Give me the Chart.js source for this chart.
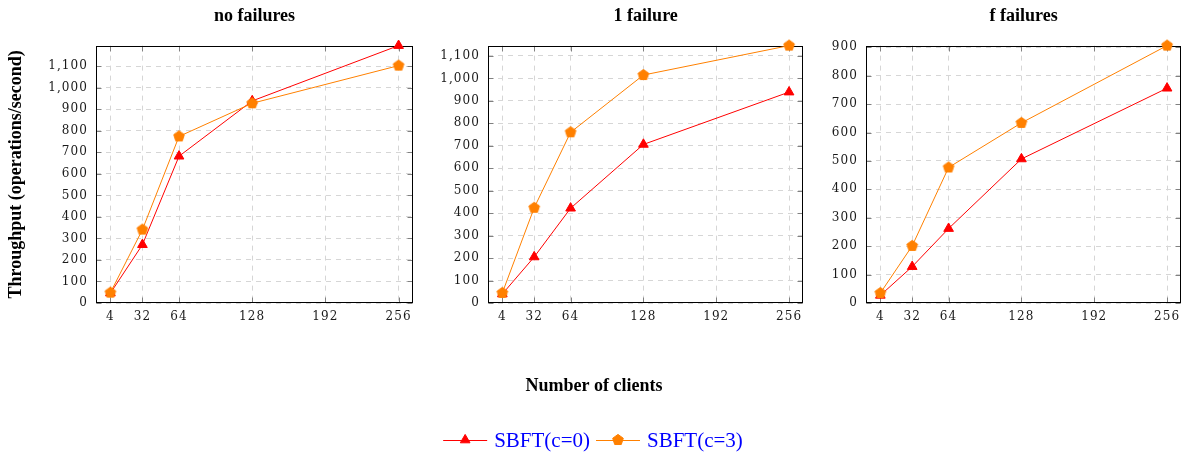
<!DOCTYPE html>
<html><head><meta charset="utf-8">
<script src="https://cdn.jsdelivr.net/npm/chart.js@4.4.1/dist/chart.umd.min.js"></script>
<style>
html,body{margin:0;padding:0;background:#fff;width:1188px;height:455px;overflow:hidden;}
.p{position:absolute;top:0;}
canvas{display:block;}
</style></head><body>
<div class="p" style="left:0px"><canvas id="c1" width="420" height="455"></canvas></div>
<div class="p" style="left:420px"><canvas id="c2" width="390" height="455"></canvas></div>
<div class="p" style="left:810px"><canvas id="c3" width="378" height="455"></canvas></div>
<script>
// ---------- data ----------
const clients = [4, 32, 64, 128, 256];
const xTicks = [4, 32, 64, 128, 192, 256];
const panelTitles = ['no failures', '1 failure', 'f failures'];
const seriesNames = ['SBFT(c=0)', 'SBFT(c=3)'];
const noFailC0 = [46, 271, 682, 939, 1196];
const noFailC3 = [48, 341, 774, 928, 1103];
const oneFailC0 = [40, 205, 422, 706, 939];
const oneFailC3 = [45, 424, 760, 1015, 1146];
const fFailC0 = [27, 128, 262, 507, 756];
const fFailC3 = [35, 201, 477, 634, 906];
const yTicks1100 = [0, 100, 200, 300, 400, 500, 600, 700, 800, 900, 1000, 1100];
const yTicks900 = [0, 100, 200, 300, 400, 500, 600, 700, 800, 900];
const yMaxes = [1196, 1146, 906];
const xAxisTitle = 'Number of clients';
const yAxisTitle = 'Throughput (operations/second)';

// ---------- styles ----------
const RED = '#ff0000';
const ORANGE = '#ff8000';
const serif = 'Liberation Serif';

function pentagon(color, r) {
  const s = Math.ceil(2 * r + 2);
  const c = document.createElement('canvas');
  c.width = s; c.height = s;
  const g = c.getContext('2d');
  g.fillStyle = color; g.strokeStyle = color; g.lineWidth = 1;
  g.beginPath();
  for (let i = 0; i < 5; i++) {
    const a = -Math.PI / 2 + i * 2 * Math.PI / 5;
    const x = s / 2 + r * Math.cos(a), y = s / 2 + r * Math.sin(a);
    if (i) g.lineTo(x, y); else g.moveTo(x, y);
  }
  g.closePath(); g.fill(); g.stroke();
  return c;
}
const pentImg = pentagon(ORANGE, 5.6);

// widen tick label glyph spacing (like the wide serif digits of the source)
const origDrawLabels = Chart.Scale.prototype.drawLabels;
Chart.Scale.prototype.drawLabels = function (area) {
  const ctx = this.ctx;
  const prev = ctx.letterSpacing;
  ctx.letterSpacing = '1.1px';
  origDrawLabels.call(this, area);
  ctx.letterSpacing = prev || '0px';
};

const frame = {
  id: 'frame',
  beforeDatasetsDraw(chart) {
    const { ctx, chartArea: a, scales: { x, y } } = chart;
    const L = Math.round(a.left) + 0.5, R = Math.round(a.right) - 0.5;
    const T = Math.round(a.top) + 0.5, B = Math.round(a.bottom) - 0.5;
    ctx.save();
    ctx.lineWidth = 1;
    ctx.strokeStyle = '#808080';
    ctx.beginPath();
    x.ticks.forEach(t => {
      const px = Math.round(x.getPixelForValue(t.value)) + 0.5;
      ctx.moveTo(px, B); ctx.lineTo(px, B - 5);
      ctx.moveTo(px, T); ctx.lineTo(px, T + 5);
    });
    y.ticks.forEach(t => {
      const py = Math.round(y.getPixelForValue(t.value)) + 0.5;
      ctx.moveTo(L, py); ctx.lineTo(L + 5, py);
      ctx.moveTo(R, py); ctx.lineTo(R - 5, py);
    });
    ctx.stroke();
    ctx.strokeStyle = '#000';
    ctx.strokeRect(L, T, R - L, B - T);
    ctx.restore();
  }
};

const figureText = {
  id: 'figureText',
  afterDraw(chart) {
    const ctx = chart.ctx;
    ctx.save();
    ctx.letterSpacing = '0px';
    ctx.font = 'bold 18px "' + serif + '"';
    ctx.fillStyle = '#000';
    ctx.textAlign = 'center';
    ctx.textBaseline = 'middle';
    ctx.fillText(xAxisTitle, 174, 386);
    ctx.font = '21px "' + serif + '"';
    const items = chart.data.datasets.map(d => ({
      label: d.label, color: d.borderColor, style: d.pointStyle, r: d.pointRadius,
      w: ctx.measureText(d.label).width
    }));
    const lineLen = 44, gapLT = 7, gapItem = 6;
    let total = 0;
    items.forEach((it, i) => { total += lineLen + gapLT + it.w + (i ? gapItem : 0); });
    let x = 173 - total / 2;
    const y = 440;
    items.forEach(it => {
      ctx.strokeStyle = it.color; ctx.lineWidth = 1;
      ctx.beginPath(); ctx.moveTo(x, y + 0.5); ctx.lineTo(x + lineLen, y + 0.5); ctx.stroke();
      ctx.fillStyle = it.color;
      Chart.helpers.drawPoint(ctx, { pointStyle: it.style, radius: it.r, rotation: 0, borderWidth: 1 }, x + lineLen / 2, y);
      ctx.fillStyle = '#0000ff';
      ctx.textAlign = 'left';
      ctx.fillText(it.label, x + lineLen + gapLT, y + 1);
      x += lineLen + gapLT + it.w + gapItem;
    });
    ctx.restore();
  }
};

function makeChart(id, idx, c0, c3, yTicks, yAxisW, rightPad, showYTitle, extra) {
  const gridOpts = { color: '#d6d6d6', lineWidth: 1, drawTicks: false };
  const tickFont = { family: 'DejaVu Serif', size: 12 };
  return new Chart(document.getElementById(id), {
    type: 'line',
    data: {
      datasets: [
        {
          label: seriesNames[0],
          data: clients.map((c, i) => ({ x: c, y: c0[i] })),
          borderColor: RED, backgroundColor: RED, borderWidth: 1,
          pointStyle: 'triangle', pointRadius: 5.6, pointBorderWidth: 1,
          pointBackgroundColor: RED, pointBorderColor: RED,
          tension: 0, clip: false, order: 1
        },
        {
          label: seriesNames[1],
          data: clients.map((c, i) => ({ x: c, y: c3[i] })),
          borderColor: ORANGE, backgroundColor: ORANGE, borderWidth: 1,
          pointStyle: pentImg, pointRadius: 5.6,
          tension: 0, clip: false, order: 0
        }
      ]
    },
    options: {
      responsive: false, animation: false, devicePixelRatio: 1,
      layout: { padding: { left: 0, right: rightPad, top: 0, bottom: 0 } },
      plugins: {
        legend: { display: false },
        tooltip: { enabled: false },
        title: {
          display: true, text: panelTitles[idx], fullSize: false, color: '#000',
          font: { family: serif, size: 18, weight: 'bold', lineHeight: 1.2 },
          padding: { top: 6, bottom: 18 }
        }
      },
      scales: {
        x: {
          type: 'linear', min: -8.6, max: 268.6,
          afterBuildTicks: s => { s.ticks = xTicks.map(v => ({ value: v })); },
          afterFit: s => { s.height = 152; },
          grid: gridOpts,
          border: { display: false, dash: [5, 5] },
          ticks: { padding: 7, color: '#1a1a1a', font: tickFont, autoSkip: false, maxRotation: 0, callback: v => String(v) }
        },
        y: {
          type: 'linear', min: 0, max: yMaxes[idx],
          afterBuildTicks: s => { s.ticks = yTicks.map(v => ({ value: v })); },
          afterFit: s => { s.width = yAxisW; },
          grid: gridOpts,
          border: { display: false, dash: [5, 5] },
          ticks: { padding: 8, color: '#1a1a1a', font: tickFont, callback: v => Number(v).toLocaleString('en-US') },
          title: {
            display: showYTitle, text: yAxisTitle, color: '#000',
            font: { family: serif, size: 18, weight: 'bold', lineHeight: 1.2 },
            padding: { top: 6, bottom: 0 }
          }
        }
      }
    },
    plugins: [frame].concat(extra || [])
  });
}

makeChart('c1', 0, noFailC0, noFailC3, yTicks1100, 96, 7, true);
makeChart('c2', 1, oneFailC0, oneFailC3, yTicks1100, 68, 4, false, [figureText]);
makeChart('c3', 2, fFailC0, fFailC3, yTicks900, 56, 5, false);
</script>
</body></html>
